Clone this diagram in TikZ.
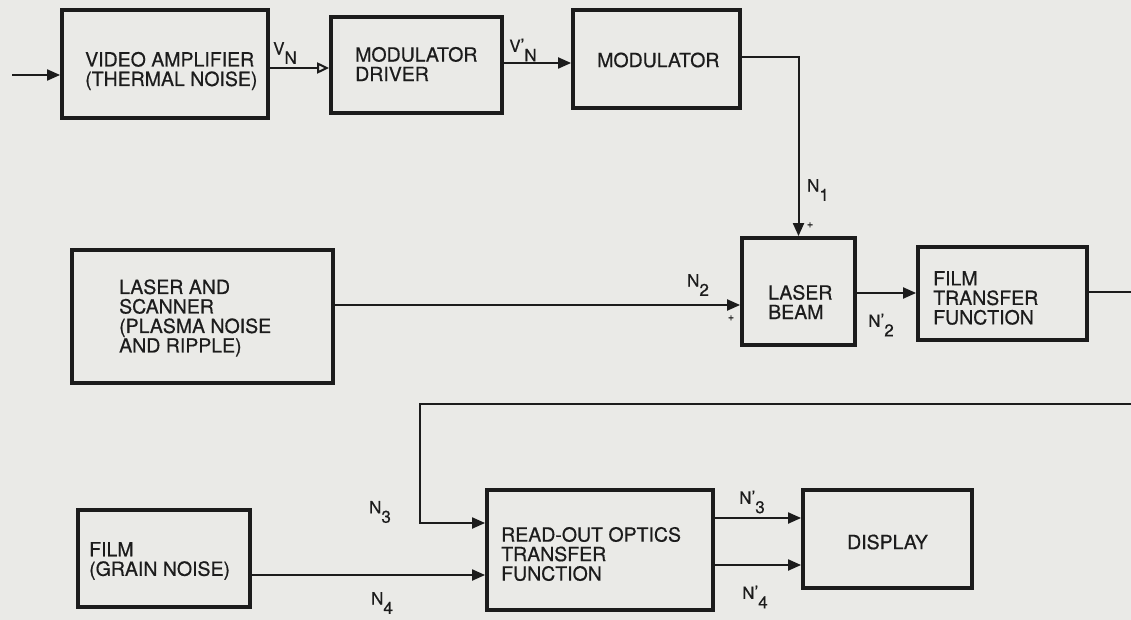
\documentclass[tikz,border=0pt]{standalone}
\usepackage{fontspec}
\setmainfont{TeX Gyre Heros}[FakeBold=0.5]
\usetikzlibrary{arrows.meta}
\definecolor{ink}{RGB}{28,28,28}
\definecolor{paper}{RGB}{234,234,231}
\newcommand\sigsub[2]{#1\raisebox{-0.55em}{#2}}
\newcommand\sigpr[2]{#1\raisebox{0.05em}{’}\raisebox{-0.55em}{#2}}
\begin{document}
\begin{tikzpicture}[x=1pt,y=-1pt,
  box/.style={draw=ink, line width=3.8pt, rectangle, inner sep=0pt},
  txt/.style={anchor=west, align=left, inner sep=0pt, text=ink, font=\fontsize{19.5}{19.5}\selectfont},
  lab/.style={inner sep=0pt, text=ink, font=\fontsize{17}{17}\selectfont},
  plus/.style={inner sep=0pt, text=ink, font=\fontsize{11}{11}\selectfont},
  wire/.style={draw=ink, line width=2pt},
  sig/.style={wire, -{Triangle[length=13pt,width=11pt]}},
  osig/.style={wire, -{Triangle[open,length=12pt,width=11pt]}}]
\useasboundingbox (0,0) rectangle (1131,620);
\fill[paper] (0,0) rectangle (1131,620);

% boxes
\node[box, minimum width=206pt, minimum height=108pt] (va) at (165,64) {};
\node[box, minimum width=171pt, minimum height=96pt] (md) at (416.5,65) {};
\node[box, minimum width=167pt, minimum height=98pt] (mod) at (656.5,59) {};
\node[box, minimum width=261pt, minimum height=133pt] (ls) at (202.5,316.5) {};
\node[box, minimum width=113pt, minimum height=107pt] (lb) at (798.5,291.5) {};
\node[box, minimum width=169pt, minimum height=93pt] (ft) at (1002.5,293.5) {};
\node[box, minimum width=172pt, minimum height=97pt] (fg) at (164,558.5) {};
\node[box, minimum width=226pt, minimum height=120pt] (ro) at (600,550) {};
\node[box, minimum width=169pt, minimum height=98pt] (disp) at (887.5,539) {};

% box texts
\node[txt] (vat) at (85,71) {VIDEO AMPLIFIER\\(THERMAL NOISE)};
\node[txt] (mdt) at (355,64) {MODULATOR\\DRIVER};
\node[txt] (modt) at (597,60) {MODULATOR};
\node[txt] (lst) at (119,318) {LASER AND\\SCANNER\\(PLASMA NOISE\\AND RIPPLE)};
\node[txt] (lbt) at (768,302) {LASER\\BEAM};
\node[txt] (ftt) at (933,298) {FILM\\TRANSFER\\FUNCTION};
\node[txt] (rot) at (501,554) {READ-OUT OPTICS\\TRANSFER\\FUNCTION};
\node[txt] (fgt) at (89,561) {FILM\\(GRAIN NOISE)};
\node[txt, anchor=center] (dispt) at (887.5,542) {DISPLAY};

% free ends
\coordinate (in) at (12,75);
\coordinate (outA) at (1131,292);
\coordinate (inB) at (1131,404);
\coordinate (bend) at (420,404);

% connectors
\draw[sig] (in) -- (va.west |- in);
\draw[osig] (va.east |- 0,68) -- (md.west |- 0,68);
\draw[sig] (md.east |- 0,63) -- (mod.west |- 0,63);
\draw[sig] (mod.east |- 0,57) -| (lb.north);
\draw[sig] (ls.east |- 0,305) -- (lb.west |- 0,305);
\draw[sig] (lb.east |- 0,293) -- (ft.west |- 0,293);
\draw[wire] (ft.east |- outA) -- (outA);
\draw[sig] (inB) -- (bend) |- (ro.west |- 0,523);
\draw[sig] (fg.east |- 0,575) -- (ro.west |- 0,575);
\draw[sig] (ro.east |- 0,518) -- (disp.west |- 0,518);
\draw[sig] (ro.east |- 0,565) -- (disp.west |- 0,565);

% signal labels
\node[lab] (lvn) at (285,53) {\sigsub{V}{N}};
\node[lab] (lvnp) at (523,50) {\sigpr{V}{N}};
\node[lab] (ln1) at (818,190) {\sigsub{N}{1}};
\node[lab] (ln2) at (698,285) {\sigsub{N}{2}};
\node[lab] (ln2p) at (881,325) {\sigpr{N}{2}};
\node[lab] (ln3) at (380,512) {\sigsub{N}{3}};
\node[lab] (ln4) at (382,603) {\sigsub{N}{4}};
\node[lab] (ln3p) at (752,502) {\sigpr{N}{3}};
\node[lab] (ln4p) at (755,597) {\sigpr{N}{4}};
\node[plus] (p1) at (810,225) {+};
\node[plus] (p2) at (731,318) {+};
\end{tikzpicture}
\end{document}
